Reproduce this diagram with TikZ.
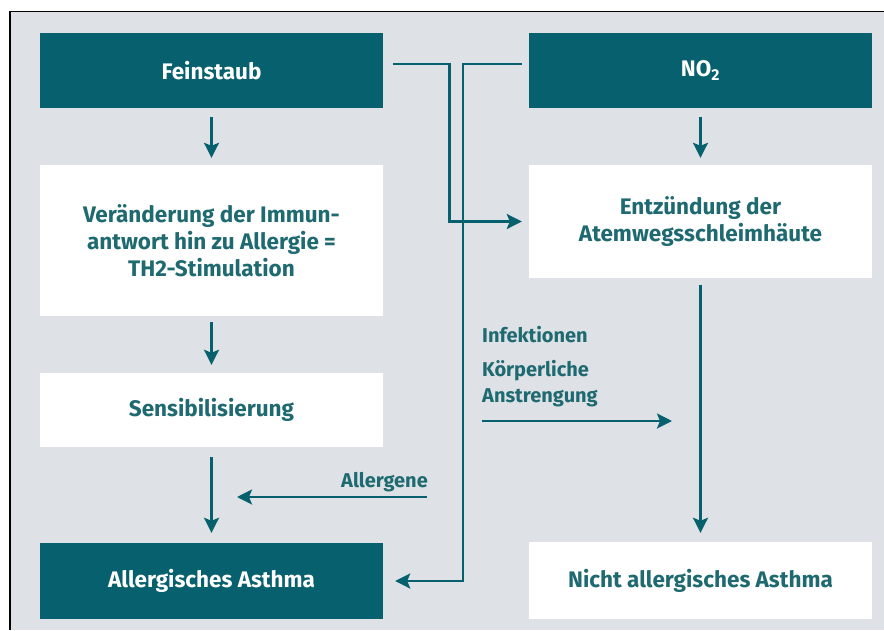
\documentclass[tikz,border=0pt]{standalone}
\usepackage{fontspec}
\setmainfont{Fira Sans}
\usetikzlibrary{arrows.meta,calc}
\definecolor{tealbox}{HTML}{06606D}
\definecolor{bggray}{HTML}{DEE2E6}
\definecolor{tealtxt}{HTML}{1E6A70}
\begin{document}
\begin{tikzpicture}[x=1pt,y=-1pt,
  darkbox/.style={fill=tealbox, text=white, minimum width=343pt, inner sep=0pt,
    font=\fontsize{22.5}{27}\selectfont\bfseries, align=center},
  lightbox/.style={fill=white, text=tealtxt, minimum width=343pt, inner sep=0pt,
    font=\fontsize{22.5}{27}\selectfont\bfseries, align=center},
  conn/.style={draw=tealbox, line width=2.6pt, -{Stealth[length=15pt,width=15pt,inset=3pt]}},
  lbl/.style={text=tealtxt, inner sep=0pt, font=\fontsize{20}{26}\selectfont\bfseries}]
\useasboundingbox (0,0) rectangle (884,630);
\fill[bggray] (10,11.5) rectangle (884,630);
\draw[line width=1.2pt] (10,630) -- (10,11.5) -- (884,11.5);

\node[darkbox, minimum height=75pt] (fein) at (211.5,70.5) {Feinstaub};
\node[darkbox, minimum height=75pt] (no2) at (700.5,70.5) {NO\textsubscript{2}};
\node[lightbox, minimum height=151pt] (ver) at (211.5,240.5) {Veränderung der Immun-\\antwort hin zu Allergie =\\TH2-Stimulation};
\node[lightbox, minimum height=113pt] (ent) at (700.5,221.5) {Entzündung der\\Atemwegsschleimhäute};
\node[lightbox, minimum height=74pt] (sens) at (211.5,410) {Sensibilisierung};
\node[darkbox, minimum height=76pt] (all) at (211.5,581) {Allergisches Asthma};
\node[lightbox, minimum height=77pt] (nicht) at (700.5,580.5) {Nicht allergisches Asthma};

\draw[conn, shorten <=9pt, shorten >=7pt] (fein) -- (ver);
\draw[conn, shorten <=6pt, shorten >=8pt] (ver) -- (sens);
\draw[conn, shorten <=10pt, shorten >=10pt] (sens) -- (all);
\draw[conn, shorten <=9pt, shorten >=7pt] (no2) -- (ent);
\draw[conn, shorten <=7pt, shorten >=9pt] (ent) -- (nicht);

\coordinate (fs) at ($(fein.east)+(10,-6.5)$);
\draw[conn, shorten >=7pt] (fs) -- ++(56,0) |- (ent.west);
\coordinate (ns) at ($(no2.west)+(-7,-6.5)$);
\draw[conn, shorten >=12pt] (ns) -- ++(-59,0) |- (all.east);

\node[lbl, anchor=base east] (allg) at (428,487) {Allergene};
\coordinate (a1) at (427,497);
\coordinate (a2) at (237,497);
\draw[conn] (a1) -- (a2);

\node[lbl, anchor=base west] (inf) at (482,342) {Infektionen};
\node[lbl, anchor=base west] (koe) at (482,376) {Körperliche};
\node[lbl, anchor=base west] (ans) at (482,402) {Anstrengung};
\coordinate (i1) at (482,421);
\coordinate (i2) at (672,421);
\draw[conn] (i1) -- (i2);
\end{tikzpicture}
\end{document}
